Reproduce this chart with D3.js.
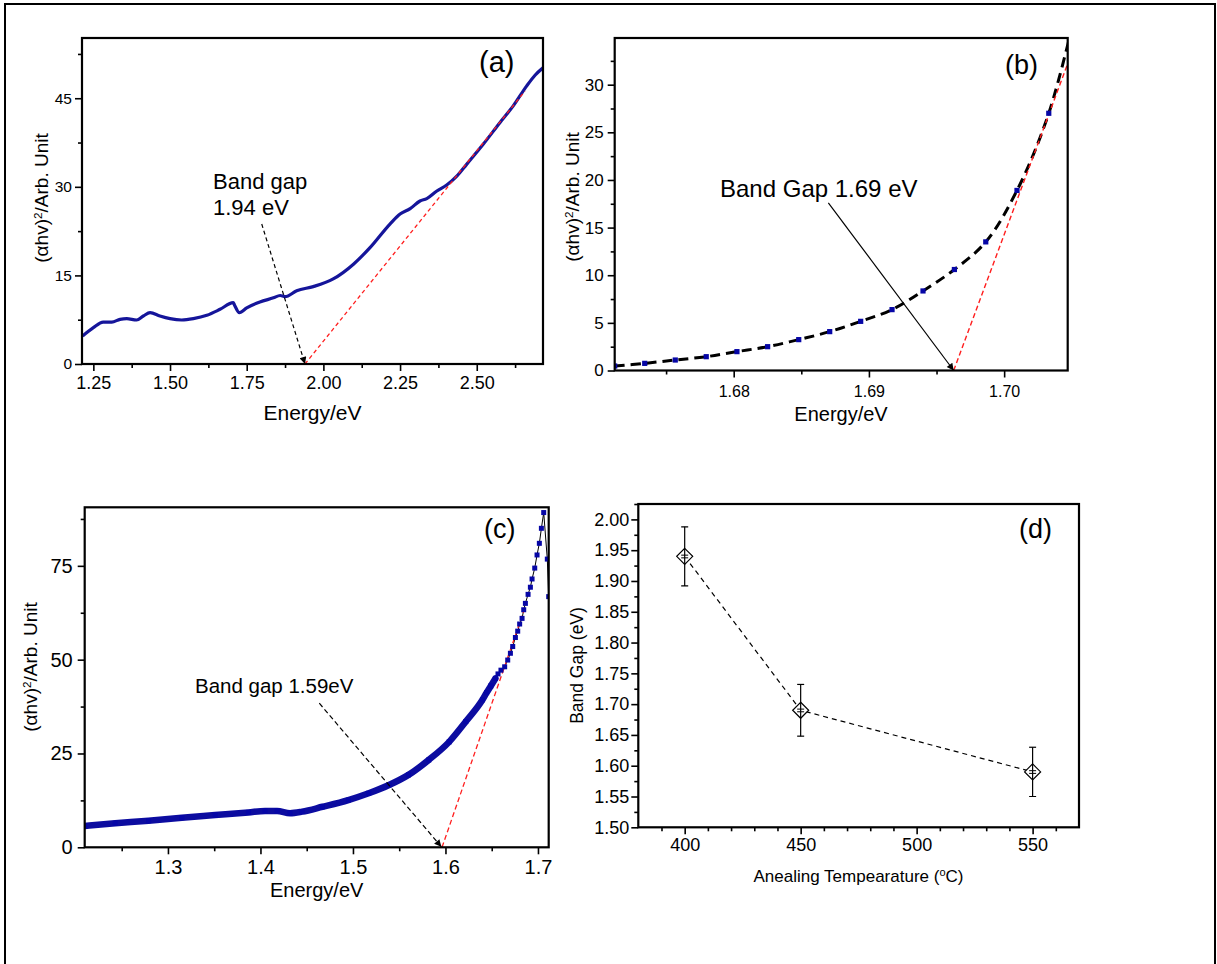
<!DOCTYPE html>
<html><head><meta charset="utf-8">
<script src="https://cdn.jsdelivr.net/npm/d3@7/dist/d3.min.js"></script>
<style>
html,body{margin:0;padding:0;background:#fff;}
svg{display:block;}
text{font-family:Arial,"Liberation Sans",sans-serif;fill:#000;}
</style></head>
<body>
<script>
// ---------- DATA ----------
// Panel (a)
const energyA = [1.215,1.250,1.282,1.310,1.337,1.359,1.391,1.413,1.435,1.467,1.500,1.538,1.576,1.620,1.663,1.706,1.710,1.726,1.750,1.793,1.837,1.859,1.875,1.913,1.967,2.032,2.098,2.152,2.217,2.250,2.283,2.315,2.337,2.370,2.402,2.435,2.467,2.521,2.576,2.619,2.663,2.690,2.717];
const valueA  = [4.74,6.15,7.1,7.1,7.56,7.68,7.45,8.13,8.7,8.13,7.68,7.45,7.68,8.25,9.26,10.4,10.0,8.7,9.5,10.5,11.2,11.6,11.4,12.4,13.1,14.4,16.9,19.7,23.7,25.4,26.3,27.6,28.0,29.3,30.3,31.8,33.8,37.2,40.9,43.7,47.1,48.9,50.2];
const fitA = [[1.940,0],[2.657,46.2]];
const arrowA = [[1.799,23.7],[1.940,0]];
const xTicksA = [1.25,1.50,1.75,2.00,2.25,2.50];
const xMinorA = [1.375,1.625,1.875,2.125,2.375,2.625];
const yTicksA = [0,15,30,45];
const yMinorA = [7.5,22.5,37.5,52.5];

// Panel (b)
const energyB = [1.6712,1.67342,1.67568,1.67797,1.68024,1.68251,1.68481,1.68710,1.68939,1.69171,1.69400,1.69632,1.69864,1.70095,1.70330,1.70561];
const valueB  = [0.47,0.75,1.1,1.45,1.98,2.5,3.24,4.08,5.16,6.39,8.35,10.6,13.5,18.9,27.0,39.5];
const fitB = [[1.69627,0],[1.7047,32.2]];
const arrowB = [[1.68700,17.6],[1.69627,0]];
const xTicksB = [1.68,1.69,1.70];
const xMinorB = [1.675,1.685,1.695];
const yTicksB = [0,5,10,15,20,25,30];
const yMinorB = [2.5,7.5,12.5,17.5,22.5,27.5,32.5];

// Panel (c)
const energyC = [1.210,1.243,1.279,1.315,1.351,1.387,1.405,1.418,1.432,1.445,1.467,1.495,1.517,1.539,1.560,1.582,1.604,1.622,1.640,1.6445,1.6490,1.654,1.6568,1.6600,
                 1.6640,1.6673,1.6702,1.6727,1.6756,1.6781,1.6802,1.6828,1.6846,1.6864,1.6893,1.6918,1.6936,1.6965,1.6990,1.7015,1.7037,1.7062,1.7101,1.7116];
const valueC  = [5.7,6.4,7.1,7.9,8.6,9.3,9.7,9.7,9.1,9.5,10.8,12.6,14.4,16.6,19.3,23.3,28.1,33.5,39.3,41.2,43.0,45.0,46.2,47.2,
                 48.1,49.9,51.7,53.5,55.9,57.6,59.5,61.0,63.3,65.0,67.4,69.3,71.5,74.4,77.9,81.0,85.0,89.2,76.8,66.8];
const denseLimitC = 1.655;
const fitC = [[1.5963,0],[1.6863,64.1]];
const arrowC = [[1.4636,38.4],[1.5955,0.15]];
const xTicksC = [1.3,1.4,1.5,1.6,1.7];
const xMinorC = [1.25,1.35,1.45,1.55,1.65];
const yTicksC = [0,25,50,75];
const yMinorC = [12.5,37.5,62.5,87.5];

// Panel (d)
const tempsD = [400,450,550];
const gapsD  = [1.94,1.69,1.59];
const errsD  = [0.048,0.042,0.040];
const xTicksD = [400,450,500,550];
const xMinorD = [390,410,420,430,440,460,470,480,490,510,520,530,540,560];
const yTicksD = [1.50,1.55,1.60,1.65,1.70,1.75,1.80,1.85,1.90,1.95,2.00];
const yMinorD = [1.525,1.575,1.625,1.675,1.725,1.775,1.825,1.875,1.925,1.975,2.025];

// ---------- DRAW ----------
const W = 1217, H = 964;
const svg = d3.select("body").append("svg").attr("width", W).attr("height", H);
svg.append("rect").attr("width", W).attr("height", H).attr("fill", "#fff");
svg.append("rect").attr("x",5).attr("y",4).attr("width",1210).attr("height",1010)
   .attr("fill","none").attr("stroke","#000").attr("stroke-width",2);

const defs = svg.append("defs");
defs.append("marker").attr("id","arrowHead").attr("viewBox","0 0 10 10")
  .attr("refX",10).attr("refY",5).attr("markerWidth",9).attr("markerHeight",7)
  .attr("markerUnits","userSpaceOnUse").attr("orient","auto")
  .append("path").attr("d","M0,0 L10,5 L0,10 z").attr("fill","#000");

const BLUE = "#15159a";
const RED = "#ff1e1e";
const MARK = "#0606a6";

function panel(cfg){
  const g = svg.append("g").attr("transform",`translate(${cfg.left},${cfg.top})`);
  const x = d3.scaleLinear().domain(cfg.xDomain).range([0,cfg.w]);
  const y = d3.scaleLinear().domain(cfg.yDomain).range([cfg.h,0]);
  const clipId = "clip"+cfg.id;
  defs.append("clipPath").attr("id",clipId).append("rect").attr("width",cfg.w).attr("height",cfg.h);

  const xa = g.append("g").attr("transform",`translate(0,${cfg.h})`)
    .call(d3.axisBottom(x).tickValues(cfg.xTicks).tickSize(7).tickPadding(cfg.xPad).tickFormat(cfg.xFmt));
  g.append("g").attr("transform",`translate(0,${cfg.h})`)
    .call(d3.axisBottom(x).tickValues(cfg.xMinor).tickSize(4).tickFormat(""));
  const ya = g.append("g")
    .call(d3.axisLeft(y).tickValues(cfg.yTicks).tickSize(7).tickPadding(cfg.yPad).tickFormat(cfg.yFmt));
  g.append("g").call(d3.axisLeft(y).tickValues(cfg.yMinor).tickSize(4).tickFormat(""));
  g.selectAll(".domain").remove();
  g.selectAll(".tick line").attr("stroke","#000").attr("stroke-width",1.6);
  xa.selectAll("text").attr("font-size",cfg.xFont).attr("font-family","Arial, 'Liberation Sans', sans-serif");
  ya.selectAll("text").attr("font-size",cfg.yFont).attr("font-family","Arial, 'Liberation Sans', sans-serif");

  const plot = g.append("g").attr("clip-path",`url(#${clipId})`);
  g.append("rect").attr("width",cfg.w).attr("height",cfg.h).attr("fill","none")
    .attr("stroke","#000").attr("stroke-width",2.2);
  return {g, x, y, plot};
}

function yLabel(xb, yc, size, main, sup, rest){
  const t = svg.append("text").attr("transform",`translate(${xb},${yc}) rotate(-90)`)
    .attr("text-anchor","middle").attr("font-size",size);
  t.append("tspan").text(main);
  if (sup){
    t.append("tspan").attr("baseline-shift","super").attr("font-size",size*0.62).text(sup);
    t.append("tspan").text(rest);
  }
}
function txt(x,y,size,s,anchor){
  return svg.append("text").attr("x",x).attr("y",y).attr("font-size",size)
    .attr("text-anchor",anchor||"start").text(s);
}
function seg(p, pts){ return d3.line().x(d=>p.x(d[0])).y(d=>p.y(d[1]))(pts); }

// ----- Panel (a)
const A = panel({id:"a",left:82,top:38,w:461,h:326,xDomain:[1.213,2.716],yDomain:[0,55.2],
  xTicks:xTicksA,xMinor:xMinorA,yTicks:yTicksA,yMinor:yMinorA,xFmt:d3.format(".2f"),yFmt:d3.format("d"),
  xPad:5,yPad:3,xFont:18,yFont:15.5});
const ptsA = energyA.map((e,i)=>[e,valueA[i]]);
A.plot.append("path").attr("d",d3.line().x(d=>A.x(d[0])).y(d=>A.y(d[1])).curve(d3.curveMonotoneX)(ptsA))
  .attr("fill","none").attr("stroke",BLUE).attr("stroke-width",3.2).attr("stroke-linejoin","round");
A.plot.append("path").attr("d",seg(A,fitA)).attr("stroke",RED).attr("stroke-width",1.3)
  .attr("stroke-dasharray","4,3").attr("fill","none");
A.g.append("path").attr("d",seg(A,arrowA)).attr("stroke","#000").attr("stroke-width",1.2)
  .attr("stroke-dasharray","4,3").attr("fill","none").attr("marker-end","url(#arrowHead)");
txt(479,72,29,"(a)");
txt(213,189,22,"Band gap");
txt(213,215,22,"1.94 eV");
txt(312.5,420,21,"Energy/eV","middle");
yLabel(47.5,198,19,"(\u03B1hv)","2","/Arb. Unit");

// ----- Panel (b)
const B = panel({id:"b",left:614.7,top:38,w:453,h:332.5,xDomain:[1.6712,1.7047],yDomain:[0,34.9],
  xTicks:xTicksB,xMinor:xMinorB,yTicks:yTicksB,yMinor:yMinorB,xFmt:d3.format(".2f"),yFmt:d3.format("d"),
  xPad:8,yPad:4,xFont:16,yFont:17});
const ptsB = energyB.map((e,i)=>[e,valueB[i]]);
B.plot.append("path").attr("d",d3.line().x(d=>B.x(d[0])).y(d=>B.y(d[1])).curve(d3.curveCatmullRom)(ptsB))
  .attr("fill","none").attr("stroke","#000").attr("stroke-width",3).attr("stroke-dasharray","10,6");
B.plot.append("path").attr("d",seg(B,fitB)).attr("stroke",RED).attr("stroke-width",1.4)
  .attr("stroke-dasharray","5,3").attr("fill","none");
B.plot.selectAll("rect.m").data(ptsB).join("rect").attr("class","m")
  .attr("x",d=>B.x(d[0])-2.6).attr("y",d=>B.y(d[1])-2.6).attr("width",5.2).attr("height",5.2).attr("fill",MARK);
B.g.append("path").attr("d",seg(B,arrowB)).attr("stroke","#000").attr("stroke-width",1.2)
  .attr("fill","none").attr("marker-end","url(#arrowHead)");
txt(1005,74,27,"(b)");
txt(720,197,24,"Band Gap 1.69 eV");
txt(841,421,20,"Energy/eV","middle");
yLabel(579,197,19,"(\u03B1hv)","2","/Arb. Unit");

// ----- Panel (c)
const C = panel({id:"c",left:84.7,top:507.3,w:464,h:340,xDomain:[1.2100,1.7116],yDomain:[0,90.6],
  xTicks:xTicksC,xMinor:xMinorC,yTicks:yTicksC,yMinor:yMinorC,xFmt:d3.format(".1f"),yFmt:d3.format("d"),
  xPad:6,yPad:5,xFont:20,yFont:20});
const ptsC = energyC.map((e,i)=>[e,valueC[i]]);
const denseC = ptsC.filter(d=>d[0]<=denseLimitC);
C.plot.append("path").attr("d",seg(C,ptsC)).attr("fill","none").attr("stroke","#000").attr("stroke-width",1);
C.plot.append("path").attr("d",d3.line().x(d=>C.x(d[0])).y(d=>C.y(d[1])).curve(d3.curveMonotoneX)(denseC))
  .attr("fill","none").attr("stroke","#0c0ca0").attr("stroke-width",6.5).attr("stroke-linejoin","round").attr("stroke-linecap","round");
C.plot.append("path").attr("d",seg(C,fitC)).attr("stroke",RED).attr("stroke-width",1.3)
  .attr("stroke-dasharray","5,3").attr("fill","none");
C.plot.selectAll("rect.m").data(ptsC).join("rect").attr("class","m")
  .attr("x",d=>C.x(d[0])-2.5).attr("y",d=>C.y(d[1])-2.5).attr("width",5).attr("height",5).attr("fill",MARK);
C.g.append("path").attr("d",seg(C,arrowC)).attr("stroke","#000").attr("stroke-width",1.2)
  .attr("stroke-dasharray","5,3").attr("fill","none").attr("marker-end","url(#arrowHead)");
txt(484,538,27,"(c)");
txt(195,693,20.5,"Band gap 1.59eV");
txt(316.7,897,20,"Energy/eV","middle");
yLabel(37,667,19,"(\u03B1hv)","2","/Arb. Unit");

// ----- Panel (d)
const D = panel({id:"d",left:638.3,top:504,w:440.7,h:323.3,xDomain:[380,570],yDomain:[1.5,2.025],
  xTicks:xTicksD,xMinor:xMinorD,yTicks:yTicksD,yMinor:yMinorD,xFmt:d3.format("d"),yFmt:d3.format(".2f"),
  xPad:4,yPad:2,xFont:18,yFont:18});
const ptsD = tempsD.map((t,i)=>({t, g:gapsD[i], e:errsD[i]}));
D.plot.append("path").attr("d",d3.line().x(d=>D.x(d.t)).y(d=>D.y(d.g))(ptsD))
  .attr("fill","none").attr("stroke","#000").attr("stroke-width",1.2).attr("stroke-dasharray","5,4");
const pg = D.plot.selectAll("g.pt").data(ptsD).join("g").attr("class","pt");
pg.append("path").attr("d",d=>{const cx=D.x(d.t), cy=D.y(d.g); return `M${cx},${cy-8} L${cx+8},${cy} L${cx},${cy+8} L${cx-8},${cy} Z`;})
  .attr("fill","#fff").attr("stroke","#000").attr("stroke-width",1.2);
pg.append("line").attr("x1",d=>D.x(d.t)).attr("x2",d=>D.x(d.t))
  .attr("y1",d=>D.y(d.g+d.e)).attr("y2",d=>D.y(d.g-d.e)).attr("stroke","#000").attr("stroke-width",1.2);
pg.append("line").attr("x1",d=>D.x(d.t)-3.5).attr("x2",d=>D.x(d.t)+3.5)
  .attr("y1",d=>D.y(d.g+d.e)).attr("y2",d=>D.y(d.g+d.e)).attr("stroke","#000").attr("stroke-width",1.2);
pg.append("line").attr("x1",d=>D.x(d.t)-3.5).attr("x2",d=>D.x(d.t)+3.5)
  .attr("y1",d=>D.y(d.g-d.e)).attr("y2",d=>D.y(d.g-d.e)).attr("stroke","#000").attr("stroke-width",1.2);
pg.append("line").attr("x1",d=>D.x(d.t)-3.5).attr("x2",d=>D.x(d.t)+3.5)
  .attr("y1",d=>D.y(d.g)-1.2).attr("y2",d=>D.y(d.g)-1.2).attr("stroke","#000").attr("stroke-width",1);
pg.append("line").attr("x1",d=>D.x(d.t)-3.5).attr("x2",d=>D.x(d.t)+3.5)
  .attr("y1",d=>D.y(d.g)+1.5).attr("y2",d=>D.y(d.g)+1.5).attr("stroke","#000").attr("stroke-width",1);
txt(1019,538,27,"(d)");
const xl = svg.append("text").attr("x",858.5).attr("y",882).attr("font-size",17).attr("text-anchor","middle");
xl.append("tspan").text("Anealing Tempearature (");
xl.append("tspan").attr("baseline-shift","super").attr("font-size",11).text("o");
xl.append("tspan").text("C)");
yLabel(583,665.5,17.5,"Band Gap (eV)");
</script>
</body></html>
